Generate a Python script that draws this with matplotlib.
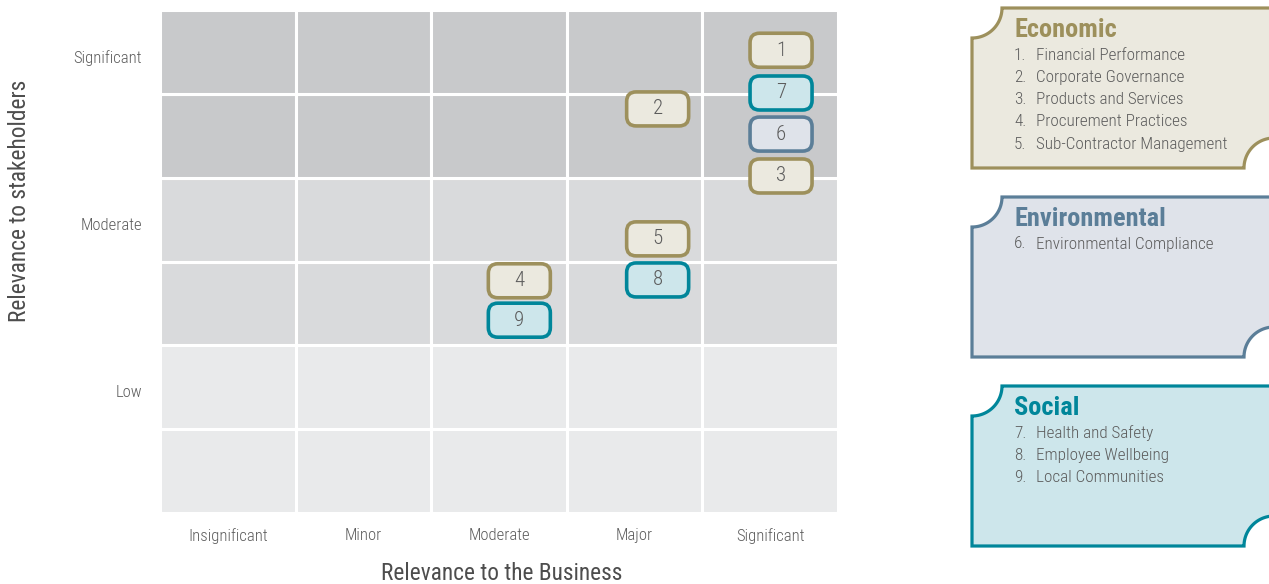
import matplotlib
matplotlib.use("Agg")
import matplotlib.pyplot as plt
import numpy as np
from matplotlib.patches import FancyBboxPatch, Polygon

plt.rcParams['font.family'] = ['Roboto Condensed', 'Liberation Sans Narrow', 'Roboto', 'DejaVu Sans']

# materiality topics, numbered 1..9
topics = ["Financial Performance", "Corporate Governance", "Products and Services",
          "Procurement Practices", "Sub-Contractor Management", "Environmental Compliance",
          "Health and Safety", "Employee Wellbeing", "Local Communities"]
topic_group = [0, 0, 0, 0, 0, 1, 2, 2, 2]
# position on the matrix (columns 0..5 business, rows 0..6 stakeholders)
business = [4.58, 3.67, 4.58, 2.65, 3.67, 4.58, 4.58, 3.67, 2.65]
stakeholders = [5.52, 4.82, 4.02, 2.77, 3.27, 4.52, 5.01, 2.78, 2.30]

groups = ["Economic", "Environmental", "Social"]
group_edge = ["#9d905c", "#5b7e98", "#00869a"]
group_fill = ["#ebe9df", "#dfe3ea", "#cde6eb"]

x_levels = ["Insignificant", "Minor", "Moderate", "Major", "Significant"]
y_levels = ["Low", "Moderate", "Significant"]
# shading band of each row, bottom to top
row_band = [0, 0, 1, 1, 2, 2]
band_colors = ["#e9eaeb", "#d9dadc", "#c8c9cb"]

text_gray = "#5c5c5c"

W, H = 1269, 584
fig = plt.figure(figsize=(W / 100, H / 100), dpi=100)

ax = fig.add_axes([160 / W, (H - 513) / H, 678 / W, 503 / H])
ncols, nrows = len(x_levels), len(row_band)
for r in range(nrows):
    for c in range(ncols):
        ax.add_patch(plt.Rectangle((c, r), 1, 1, facecolor=band_colors[row_band[r]],
                                   edgecolor="white", linewidth=2.2))
ax.set_xlim(0, ncols)
ax.set_ylim(0, nrows)
for s in ax.spines.values():
    s.set_visible(False)
ax.set_xticks(np.arange(ncols) + 0.5)
ax.set_xticklabels(x_levels, fontsize=12, color=text_gray, fontweight="light")
ax.set_yticks([1.45, 3.45, 5.45])
ax.set_yticklabels(y_levels, fontsize=12, color=text_gray, fontweight="light")
ax.tick_params(length=0, pad=13)
ax.tick_params(axis="x", pad=11)

# topic badges
bw, bh = 62 / 135.6, 34 / 83.8
aspect = (1 / 83.8) / (1 / 135.6)
for i, (bx, by) in enumerate(zip(business, stakeholders)):
    g = topic_group[i]
    ax.add_patch(FancyBboxPatch((bx - bw / 2, by - bh / 2), bw, bh,
                                boxstyle="round,pad=0,rounding_size=0.07",
                                mutation_aspect=aspect,
                                facecolor=group_fill[g], edgecolor=group_edge[g],
                                linewidth=2.6, zorder=3))
    ax.text(bx, by, str(i + 1), ha="center", va="center", fontsize=15,
            color=text_gray, fontweight="light", zorder=4)

fig.text(502 / W, 1 - 573 / H, "Relevance to the Business", ha="center", va="center",
         fontsize=16.8, color="#4d4d4d")
fig.text(20 / W, 1 - 201 / H, "Relevance to stakeholders", ha="center", va="center",
         rotation=90, fontsize=16.8, color="#4d4d4d")

# legend panels drawn in pixel coordinates
lax = fig.add_axes([0, 0, 1, 1])
lax.set_xlim(0, W)
lax.set_ylim(H, 0)
lax.axis("off")


def notched_box(x0, y0, x1, y1, r):
    t = np.linspace(0, np.pi / 2, 30)
    pts = [(x0 + r, y0), (x1, y0), (x1, y1 - r)]
    # bottom-right notch around (x1, y1)
    pts += list(zip(x1 - r * np.sin(t), y1 - r * np.cos(t)))
    pts += [(x0, y1), (x0, y0 + r)]
    # top-left notch around (x0, y0)
    pts += list(zip(x0 + r * np.sin(t), y0 + r * np.cos(t)))
    return np.array(pts)


panel_tops = [8, 197, 386]
for g, top in enumerate(panel_tops):
    lax.add_patch(Polygon(notched_box(972, top, 1274, top + 160, 30), closed=True,
                          facecolor=group_fill[g], edgecolor=group_edge[g],
                          linewidth=2.3, joinstyle="miter"))
    lax.text(1014, top + 22, groups[g], ha="left", va="center", fontsize=19,
             fontweight="bold", color=group_edge[g])
    items = [i for i in range(len(topics)) if topic_group[i] == g]
    for k, i in enumerate(items):
        yy = top + 47 + k * 22.3
        lax.text(1014, yy, f"{i + 1}.", ha="left", va="center", fontsize=12.3,
                 color=text_gray, fontweight="light")
        lax.text(1036, yy, topics[i], ha="left", va="center", fontsize=12.3,
                 color=text_gray, fontweight="light")

fig.savefig("out.png", dpi=100)
